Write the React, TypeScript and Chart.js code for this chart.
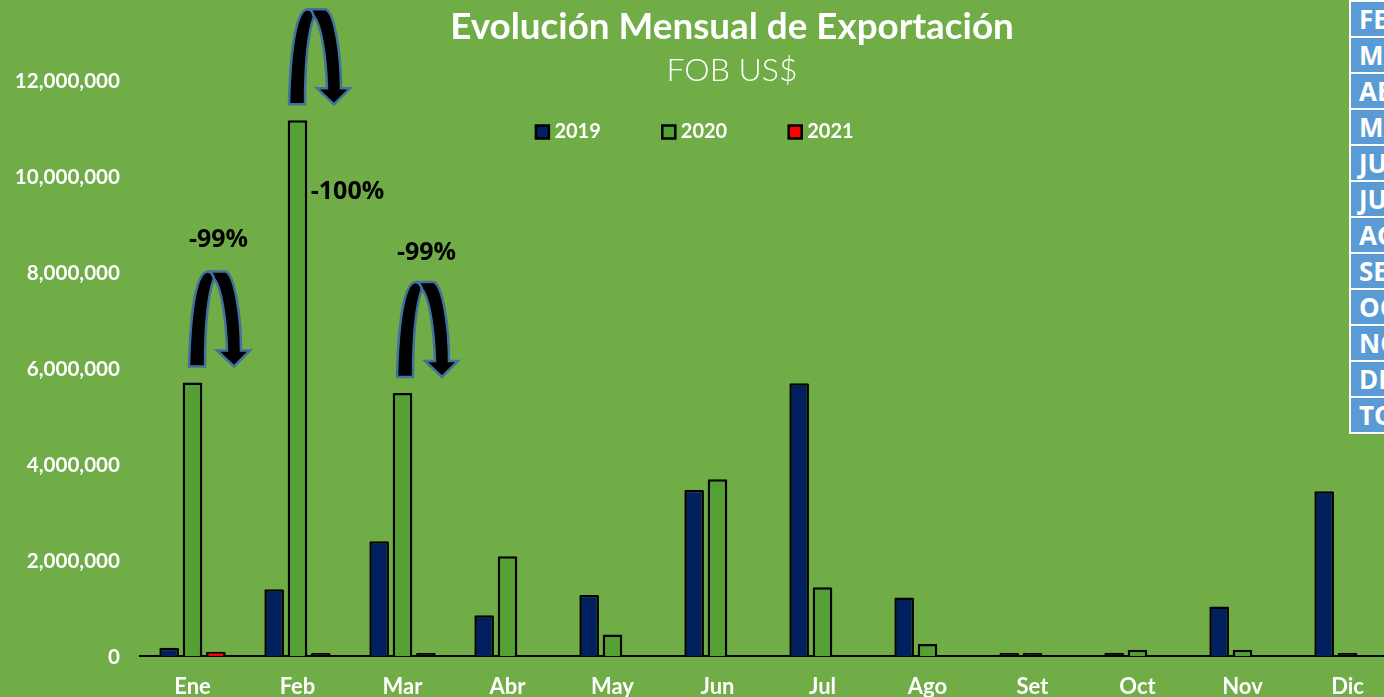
import { useEffect, useRef } from "react";
import { Chart, registerables } from "chart.js";

Chart.register(...registerables);

const months = ["Ene", "Feb", "Mar", "Abr", "May", "Jun", "Jul", "Ago", "Set", "Oct", "Nov", "Dic"];
const values2019 = [170000, 1390000, 2390000, 850000, 1270000, 3460000, 5680000, 1220000, 30000, 70000, 1030000, 3430000];
const values2020 = [5700000, 11160000, 5480000, 2080000, 450000, 3680000, 1430000, 250000, 30000, 130000, 130000, 30000];
const values2021 = [90000, 30000, 50000, null, null, null, null, null, null, null, null, null];
const yTickValues = [0, 2000000, 4000000, 6000000, 8000000, 10000000, 12000000];
const yTickLabels = ["0", "2,000,000", "4,000,000", "6,000,000", "8,000,000", "10,000,000", "12,000,000"];
const tableRows = ["FEB", "MAR", "ABR", "MAY", "JUN", "JUL", "AGO", "SET", "OCT", "NOV", "DIC", "TOTAL"];
const changeNotes = [
  { month: 0, label: "-99%", tailDx: -3.5, textDx: 26, textDy: -144 },
  { month: 1, label: "-100%", tailDx: -8.5, textDx: 50, textDy: 71 },
  { month: 2, label: "-99%", tailDx: -5.5, textDx: 24, textDy: -141 },
];

const FONT = "Lato";

const drawArrow = (ctx: CanvasRenderingContext2D, x: number, y: number) => {
  const p = (dx: number, dy: number): [number, number] => [x + dx, y - dy];
  ctx.save();
  ctx.fillStyle = "#000";
  ctx.strokeStyle = "#41719C";
  ctx.lineWidth = 2.5;
  ctx.lineJoin = "miter";
  ctx.beginPath();
  ctx.moveTo(...p(0, 0));
  ctx.bezierCurveTo(...p(1, 40), ...p(5, 95), ...p(19, 95));
  ctx.quadraticCurveTo(...p(23, 95), ...p(25, 88));
  ctx.bezierCurveTo(...p(19, 72), ...p(16, 40), ...p(16, 0));
  ctx.closePath();
  ctx.fill();
  ctx.stroke();
  ctx.beginPath();
  ctx.moveTo(...p(19, 95));
  ctx.lineTo(...p(37, 95));
  ctx.bezierCurveTo(...p(46, 90), ...p(52, 50), ...p(52, 16));
  ctx.lineTo(...p(61, 16));
  ctx.lineTo(...p(45, 0));
  ctx.lineTo(...p(28, 16));
  ctx.lineTo(...p(38, 16));
  ctx.bezierCurveTo(...p(37, 50), ...p(32, 80), ...p(25, 88));
  ctx.quadraticCurveTo(...p(23, 95), ...p(19, 95));
  ctx.closePath();
  ctx.fill();
  ctx.stroke();
  ctx.restore();
};

const layoutPlugin = {
  id: "layoutPlugin",
  beforeLayout(chart: any) {
    if (chart.$flatBoxes) return;
    chart.$flatBoxes = true;
    chart.boxes
      .filter((b: any) => !b.axis && b.update)
      .forEach((b: any) => {
        const update = b.update.bind(b);
        b.update = (...args: any[]) => {
          update(...args);
          b.height = 0;
        };
      });
  },
  afterLayout(chart: any) {
    chart.boxes
      .filter((b: any) => !b.axis)
      .forEach((b: any) => {
        const isLegend = b === chart.legend;
        const center = isLegend ? 697 : 732;
        b.left = center - 600;
        b.right = center + 600;
        b.top = isLegend ? 56 : 0;
        b.bottom = 240;
      });
  },
};

const notesPlugin = {
  id: "notesPlugin",
  afterDatasetsDraw(chart: any) {
    const { ctx, scales } = chart;
    changeNotes.forEach((n) => {
      const cx = scales.x.getPixelForValue(n.month);
      const top = scales.y.getPixelForValue(values2020[n.month]);
      drawArrow(ctx, cx + n.tailDx, top - 16);
      ctx.save();
      ctx.font = `bold 25px "Open Sans"`;
      ctx.fillStyle = "#000";
      ctx.textAlign = "center";
      ctx.textBaseline = "middle";
      ctx.fillText(n.label, cx + n.textDx, top + n.textDy + 1);
      ctx.restore();
    });
  },
};

const fill = (color: string) => (c: any) =>
  c.type === "data" && c.raw !== null && c.raw < 75000 ? "#000" : color;

export default function App() {
  const ref = useRef<HTMLCanvasElement>(null);
  useEffect(() => {
    const border = { borderColor: "#000", borderWidth: 2.5, borderRadius: 1, pointStyle: "rect" as const, minBarLength: 3 };
    const chart = new Chart(ref.current!, {
      type: "bar",
      data: {
        labels: months,
        datasets: [
          { label: "2019", data: values2019, backgroundColor: fill("#002060"), ...border },
          { label: "2020", data: values2020, backgroundColor: fill("#54A035"), ...border },
          { label: "2021", data: values2021, backgroundColor: fill("#FF0000"), ...border },
        ],
      },
      options: {
        animation: false,
        responsive: false,
        events: [],
        datasets: { bar: { categoryPercentage: 0.667, barPercentage: 0.84 } },
        layout: { padding: { top: 8, right: 10, left: 0, bottom: 0 } },
        scales: {
          x: {
            grid: { display: false, drawTicks: false },
            border: { color: "#000", width: 2 },
            ticks: {
              color: "#fff",
              font: { family: FONT, size: 22, weight: "bold" },
              padding: 18,
              autoSkip: false,
              maxRotation: 0,
            },
            afterFit: (s: any) => {
              s.height = 41;
              s.paddingLeft = 0;
              s.paddingRight = 0;
            },
          },
          y: {
            min: 0,
            max: 13500000,
            grid: { display: false, drawTicks: false },
            border: { display: false },
            ticks: {
              autoSkip: false,
              color: "#fff",
              font: { family: FONT, size: 20.6, weight: "bold" },
              padding: 20,
              labelOffset: 1,
              callback: (v: any) => {
                const i = yTickValues.indexOf(Number(v));
                return i < 0 ? "" : yTickLabels[i];
              },
            },
            afterBuildTicks: (s: any) => {
              s.ticks = yTickValues.map((value) => ({ value }));
            },
            afterFit: (s: any) => {
              s.width = 140;
              s.paddingTop = 0;
              s.paddingBottom = 0;
            },
          },
        },
        plugins: {
          tooltip: { enabled: false },
          title: {
            display: true,
            text: "Evolución Mensual de Exportación",
            color: "#fff",
            font: { family: FONT, size: 36.8, weight: "bold", lineHeight: 1.2 },
            padding: { top: 5, bottom: 0 },
          },
          subtitle: {
            display: true,
            text: "FOB US$",
            color: "#fff",
            font: { family: FONT, size: 32, weight: 300, lineHeight: 1.2 },
            padding: { top: 51, bottom: 0 },
          },
          legend: {
            display: true,
            position: "top",
            labels: {
              color: "#fff",
              font: { family: FONT, size: 20, weight: "bold" },
              usePointStyle: true,
              boxWidth: 4,
              boxHeight: 13,
              padding: 66,
              generateLabels: (chart: any) =>
                Chart.defaults.plugins.legend.labels.generateLabels(chart).map((l: any, i: number) => ({
                  ...l,
                  fillStyle: ["#002060", "#54A035", "#FF0000"][i],
                })),
            },
          },
        },
      },
      plugins: [layoutPlugin, notesPlugin],
    } as any);
    return () => chart.destroy();
  }, []);

  return (
    <div style={{ position: "fixed", left: 0, top: 0, width: 1384, height: 697, overflow: "hidden", background: "#70AD47" }}>
      <canvas ref={ref} width={1410} height={697} style={{ position: "absolute", left: 0, top: 0, display: "block" }} />
      <div style={{ position: "absolute", left: 1349, top: 0, width: 60, height: 434, background: "#fff" }}>
        {tableRows.map((r, i) => (
          <div
            key={r}
            style={{
              position: "absolute",
              left: 2,
              top: 2 + i * 36,
              width: 58,
              height: 34,
              background: "#5B9BD5",
              color: "#fff",
              font: 'bold 26px/34px "Open Sans"',
              paddingLeft: 8,
              boxSizing: "border-box",
              overflow: "hidden",
              whiteSpace: "nowrap",
            }}
          >
            {r}
          </div>
        ))}
      </div>
    </div>
  );
}
